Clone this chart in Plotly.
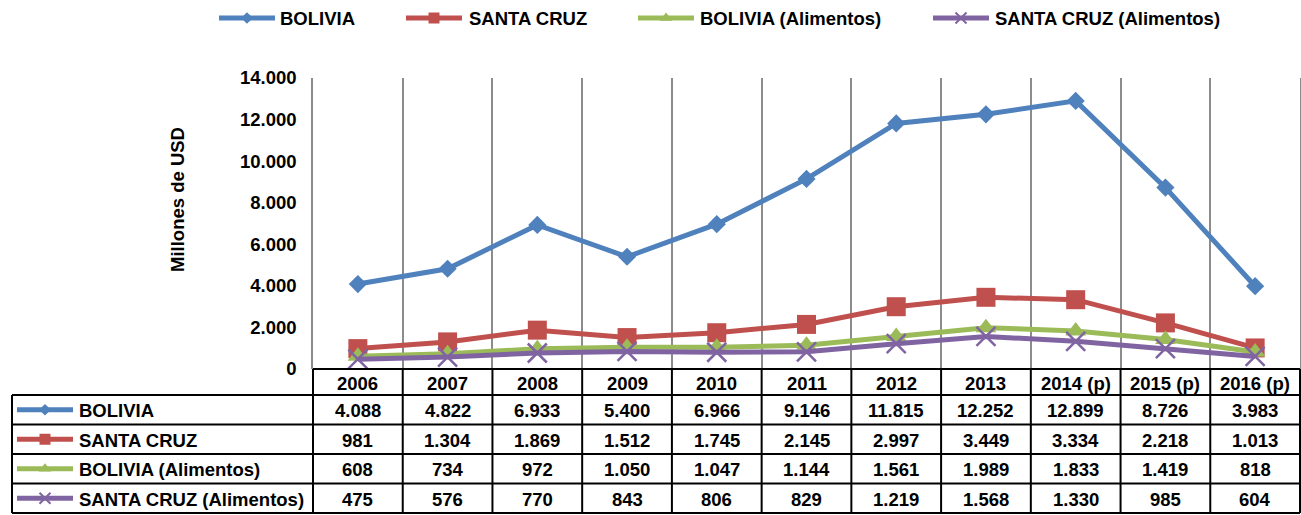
import plotly.graph_objects as go

# ---------------- data ----------------
years = ["2006", "2007", "2008", "2009", "2010", "2011", "2012", "2013",
         "2014 (p)", "2015 (p)", "2016 (p)"]
bolivia = [4088, 4822, 6933, 5400, 6966, 9146, 11815, 12252, 12899, 8726, 3983]
santa_cruz = [981, 1304, 1869, 1512, 1745, 2145, 2997, 3449, 3334, 2218, 1013]
bolivia_alim = [608, 734, 972, 1050, 1047, 1144, 1561, 1989, 1833, 1419, 818]
scz_alim = [475, 576, 770, 843, 806, 829, 1219, 1568, 1330, 985, 604]
series_names = ["BOLIVIA", "SANTA CRUZ", "BOLIVIA (Alimentos)", "SANTA CRUZ (Alimentos)"]
y_ticks = [0, 2000, 4000, 6000, 8000, 10000, 12000, 14000]

# ---------------- styling ----------------
W, H = 1301, 515
PL, PR, PT, PB = 313, 1300, 78, 369
FONT = "Arial, Liberation Sans, sans-serif"
FS = 18.5
GRID = "#8c8c8c"
colors = ["#4F81BD", "#C0504D", "#9BBB59", "#8064A2"]
symbols = ["diamond", "square", "triangle-up", "x-thin"]
msizes = [14, 19, 18, 19]
leg_msizes = [9, 11, 11, 11]

all_series = [bolivia, santa_cruz, bolivia_alim, scz_alim]


def fmt(v):
    return f"{v:,}".replace(",", ".")


fig = go.Figure()

# main lines
for name, vals, c, s, ms in zip(series_names, all_series, colors, symbols, msizes):
    marker = dict(symbol=s, size=ms, color=c)
    if s == "x-thin":
        marker["line"] = dict(color=c, width=2.5)
    fig.add_trace(go.Scatter(
        x=years, y=vals, name=name, mode="lines+markers",
        line=dict(color=c, width=5), marker=marker,
        xaxis="x", yaxis="y", showlegend=False, cliponaxis=False,
        hoverinfo="skip"))

# ---------------- overlay in pixel coordinates ----------------
shapes = []
annotations = []
bold = dict(family=FONT, size=FS, color="black", weight="bold")


def hline(x0, x1, y, color="black", w=2):
    shapes.append(dict(type="line", xref="x2", yref="y2", x0=x0, x1=x1, y0=y, y1=y,
                       line=dict(color=color, width=w)))


def vline(x, y0, y1, color="black", w=2):
    shapes.append(dict(type="line", xref="x2", yref="y2", x0=x, x1=x, y0=y0, y1=y1,
                       line=dict(color=color, width=w)))


def legend_key(x0, x1, y, idx, size):
    c = colors[idx]
    shapes.append(dict(type="line", xref="x2", yref="y2", x0=x0, x1=x1, y0=y, y1=y,
                       line=dict(color=c, width=5), layer="above"))
    marker = dict(symbol=symbols[idx], size=size, color=c)
    if symbols[idx] == "x-thin":
        marker["line"] = dict(color=c, width=2)
    fig.add_trace(go.Scatter(x=[(x0 + x1) / 2], y=[y], mode="markers", marker=marker,
                             xaxis="x2", yaxis="y2", showlegend=False, cliponaxis=False,
                             hoverinfo="skip"))


# top legend
leg_y = 18
leg_pos = [(219, 275, 278), (406, 462, 467), (638, 694, 698), (933, 989, 993)]
for i, (x0, x1, tx) in enumerate(leg_pos):
    legend_key(x0, x1, leg_y, i, leg_msizes[i])
    annotations.append(dict(xref="x2", yref="y2", x=tx, y=leg_y, text=series_names[i],
                            showarrow=False, xanchor="left", yanchor="middle", font=bold))

# table
col_w = (PR - PL) / len(years)
header_top, header_bot = 369, 395
row_edges = [395, 424.5, 454, 483.5, 513]
TL = 12
hline(PL, PR, header_top)
for ye in row_edges:
    hline(TL, PR, ye)
vline(TL, row_edges[0], row_edges[-1])
for k in range(len(years) + 1):
    vline(PL + k * col_w, header_top, row_edges[-1])

# header labels (x = category index on the main x axis)
for j, yr in enumerate(years):
    annotations.append(dict(xref="x", yref="y2", x=j, y=(header_top + header_bot) / 2 + 1,
                            text=yr, showarrow=False, xanchor="center", yanchor="middle",
                            font=bold))

# rows
for i, (name, vals) in enumerate(zip(series_names, all_series)):
    yc = (row_edges[i] + row_edges[i + 1]) / 2
    legend_key(17, 73, yc, i, leg_msizes[i])
    annotations.append(dict(xref="x2", yref="y2", x=77, y=yc + 1, text=name,
                            showarrow=False, xanchor="left", yanchor="middle", font=bold))
    for j, v in enumerate(vals):
        annotations.append(dict(xref="x", yref="y2", x=j, y=yc + 1, text=fmt(v),
                                showarrow=False, xanchor="center", yanchor="middle",
                                font=bold))

# y-axis title
annotations.append(dict(xref="x2", yref="y2", x=177, y=200, text="Millones de USD",
                        textangle=-90, showarrow=False, xanchor="center", yanchor="middle",
                        font=bold))

fig.update_layout(
    width=W, height=H,
    margin=dict(l=0, r=0, t=0, b=0),
    paper_bgcolor="white", plot_bgcolor="rgba(0,0,0,0)",
    separators=",.",
    font=dict(family=FONT, size=FS, color="black"),
    xaxis=dict(domain=[PL / W, PR / W], type="category", categoryorder="array",
               categoryarray=years, range=[-0.5, len(years) - 0.5],
               showticklabels=False, ticks="", tickson="boundaries",
               showgrid=True, gridcolor=GRID, gridwidth=1.5, showline=False,
               zeroline=False, anchor="y"),
    yaxis=dict(domain=[(H - PB) / H, (H - PT) / H], range=[0, 14000],
               tickvals=y_ticks, tickformat=",", showgrid=False, zeroline=False,
               showline=True, linecolor=GRID, linewidth=1.5, mirror=True,
               ticks="", ticklabelstandoff=11, automargin=False,
               tickfont=bold, anchor="x"),
    xaxis2=dict(domain=[0, 1], range=[0, W], visible=False, anchor="y2"),
    yaxis2=dict(domain=[0, 1], range=[H, 0], visible=False, anchor="x2"),
    shapes=shapes,
    annotations=annotations,
    showlegend=False,
)

fig.write_html(
    "out.html",
    config={"responsive": False, "displayModeBar": False},
    post_script="document.body.style.margin='0';document.body.style.padding='0';"
                "document.body.style.overflow='hidden';"
                "document.documentElement.style.overflow='hidden';",
)
